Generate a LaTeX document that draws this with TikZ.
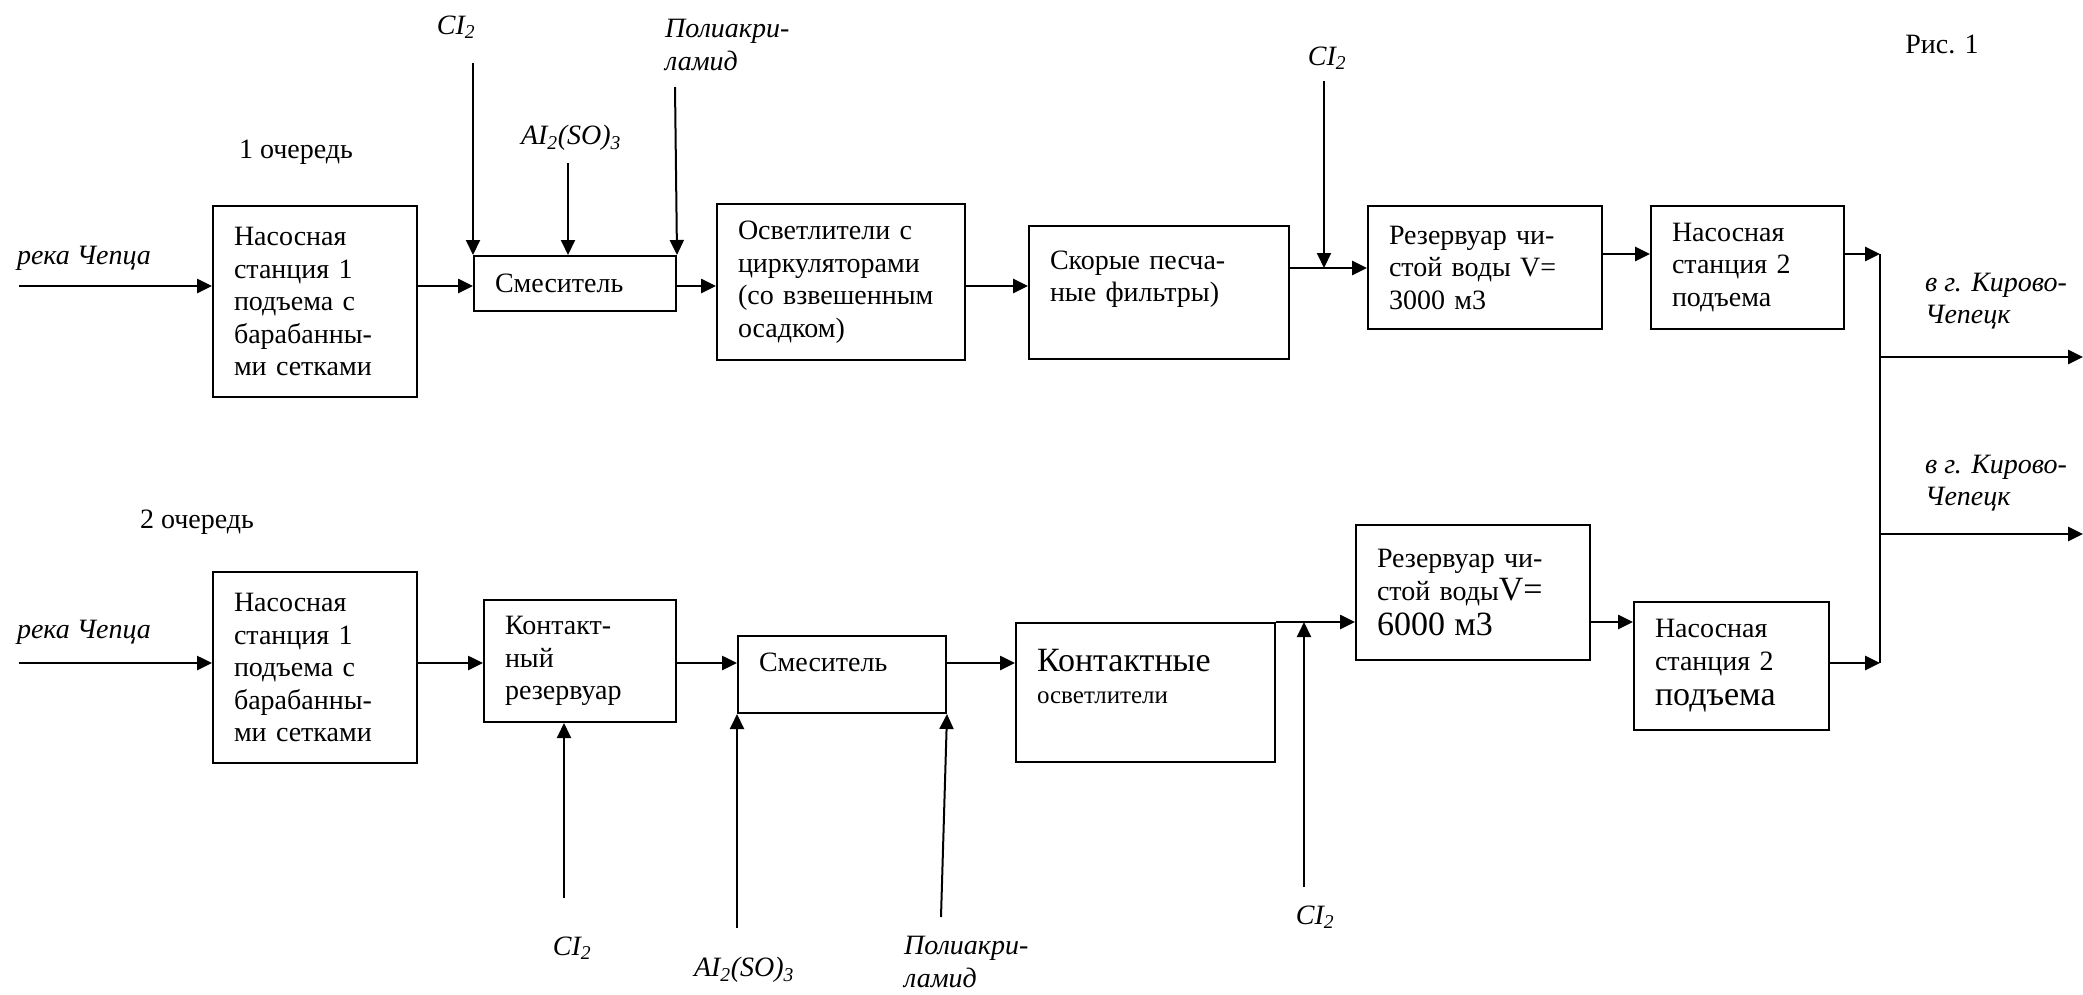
\documentclass[tikz,border=0pt]{standalone}
\usepackage{fontspec}
\setmainfont{Liberation Serif}
\usetikzlibrary{arrows.meta}
\newcommand\mfont{\fontsize{28}{32.5}\selectfont}
\newcommand\bigf{\fontsize{34}{38}\selectfont}
\newcommand\smallf{\fontsize{25}{29}\selectfont}
\begin{document}
\begin{tikzpicture}[x=1pt,y=-1pt,
  box/.style={draw, line width=2pt, inner xsep=21pt, inner ysep=0pt, align=left, anchor=north west, font=\mfont},
  lbl/.style={inner sep=0pt, font=\mfont\itshape},
  plain/.style={inner sep=0pt, font=\mfont},
  flow/.style={line width=2.6pt, -{Triangle[length=15pt,width=14pt]}},
  feed/.style={line width=2pt, -{Triangle[length=15pt,width=14pt]}},
  line/.style={line width=2pt}]
\useasboundingbox (0,0) rectangle (2083,994);

% top row boxes
\node[box, text width=162pt, minimum height=191pt] (A1) at (212,205) {Насосная\\станция 1\\подъема с\\барабанны-\\ми сетками};
\node[box, text width=160pt, minimum height=55pt] (A2) at (473,255) {Смеситель};
\node[box, text width=206pt, minimum height=156pt] (A3) at (716,203) {Осветлители с\\циркуляторами\\(со взвешенным\\осадком)};
\node[box, text width=218pt, minimum height=133pt] (A4) at (1028,225) {Скорые песча-\\ные фильтры)\\\mbox{}};
\node[box, text width=192pt, minimum height=123pt] (A5) at (1367,205) {Резервуар чи-\\стой воды V=\\3000 м3};
\node[box, text width=151pt, minimum height=123pt] (A6) at (1650,205) {Насосная\\станция 2\\подъема};

% bottom row boxes
\node[box, text width=162pt, minimum height=191pt] (B1) at (212,571) {Насосная\\станция 1\\подъема с\\барабанны-\\ми сетками};
\node[box, text width=150pt, minimum height=122pt] (B2) at (483,599) {Контакт-\\ный\\резервуар};
\node[box, text width=166pt, minimum height=77pt] (B3) at (737,635) {Смеситель\\[-8pt]\mbox{}};
\node[box, text width=217pt, minimum height=139pt] (B4) at (1015,622) {{\bigf Контактные}\\{\smallf осветлители}\\\mbox{}};
\node[box, text width=192pt, minimum height=135pt] (B5) at (1355,524) {Резервуар чи-\\стой воды{\bigf V=}\\[3pt]{\bigf 6000 м3}};
\node[box, text width=153pt, minimum height=128pt] (B6) at (1633,601) {Насосная\\станция 2\\[3pt]{\bigf подъема}};

% labels
\node[plain] (fig) at (1942,44) {Рис. 1};
\node[plain] (q1) at (296,152) {1 очередь};
\node[plain] (q2) at (197,522) {2 очередь};
\node[lbl] (r1) at (84,258) {река Чепца};
\node[lbl] (r2) at (84,632) {река Чепца};
\node[lbl] (tc1) at (456,27) {CI\textsubscript{2}};
\node[lbl] (ta1) at (571,138) {AI\textsubscript{2}(SO)\textsubscript{3}};
\node[lbl, align=left, anchor=west] (tp1) at (665,45) {Полиакри-\\ламид};
\node[lbl] (tc2) at (1327,58) {CI\textsubscript{2}};
\node[lbl, align=left, anchor=west] (k1) at (1925,301) {в г. Кирово-\\Чепецк};
\node[lbl, align=left, anchor=west] (k2) at (1925,483) {в г. Кирово-\\Чепецк};
\node[lbl] (bc1) at (572,948) {CI\textsubscript{2}};
\node[lbl] (ba1) at (744,970) {AI\textsubscript{2}(SO)\textsubscript{3}};
\node[lbl, align=left, anchor=west] (bp1) at (904,962) {Полиакри-\\ламид};
\node[lbl] (bc2) at (1315,917) {CI\textsubscript{2}};

% helper coordinates
\coordinate (in1) at (19,286);
\coordinate (yc) at (0,268);
\coordinate (yd) at (0,254);
\coordinate (J1) at (1880,254);
\coordinate (J2) at (1880,663);
\coordinate (o1) at (2083,357);
\coordinate (o2) at (2083,534);
\coordinate (in2) at (19,663);

% top flow
\draw[flow] (in1) -- (in1 -| A1.west);
\draw[flow] (A1.east |- in1) -- (A2.west |- in1);
\draw[flow] (A2.east |- in1) -- (A3.west |- in1);
\draw[flow] (A3.east |- in1) -- (A4.west |- in1);
\draw[flow] (A4.east |- yc) -- (A5.west |- yc);
\draw[flow] (A5.east |- yd) -- (A6.west |- yd);
\draw[flow] (A6.east |- yd) -- (J1);
\draw[line] (J1) -- (J2);
\draw[flow] (J1 |- o1) -- (o1);
\draw[flow] (J1 |- o2) -- (o2);

% bottom flow
\draw[flow] (in2) -- (in2 -| B1.west);
\draw[flow] (B1.east |- in2) -- (B2.west |- in2);
\draw[flow] (B2.east |- in2) -- (B3.west |- in2);
\draw[flow] (B3.east |- in2) -- (B4.west |- in2);
\draw[flow] (B4.north east) -- (B5.west |- B4.north east);
\draw[flow] (B5.east |- B4.north east) -- (B6.west |- B4.north east);
\draw[flow] (B6.east |- in2) -- (J2);

% top feeds
\coordinate (f1) at (473,63);
\coordinate (f2) at (568,163);
\coordinate (f3) at (675,87);
\coordinate (f4) at (1324,81);
\draw[feed] (f1) -- (A2.north west);
\draw[feed] (f2) -- (f2 |- A2.north);
\draw[feed] (f3) -- (A2.north east);
\draw[feed] (f4) -- (f4 |- yc);

% bottom feeds
\coordinate (g1) at (564,898);
\coordinate (g2) at (737,928);
\coordinate (g3) at (941,917);
\coordinate (g4) at (1304,887);
\draw[feed] (g1) -- (g1 |- B2.south);
\draw[feed] (g2) -- (B3.south west);
\draw[feed] (g3) -- (B3.south east);
\draw[feed] (g4) -- (g4 |- B4.north east);
\end{tikzpicture}
\end{document}
